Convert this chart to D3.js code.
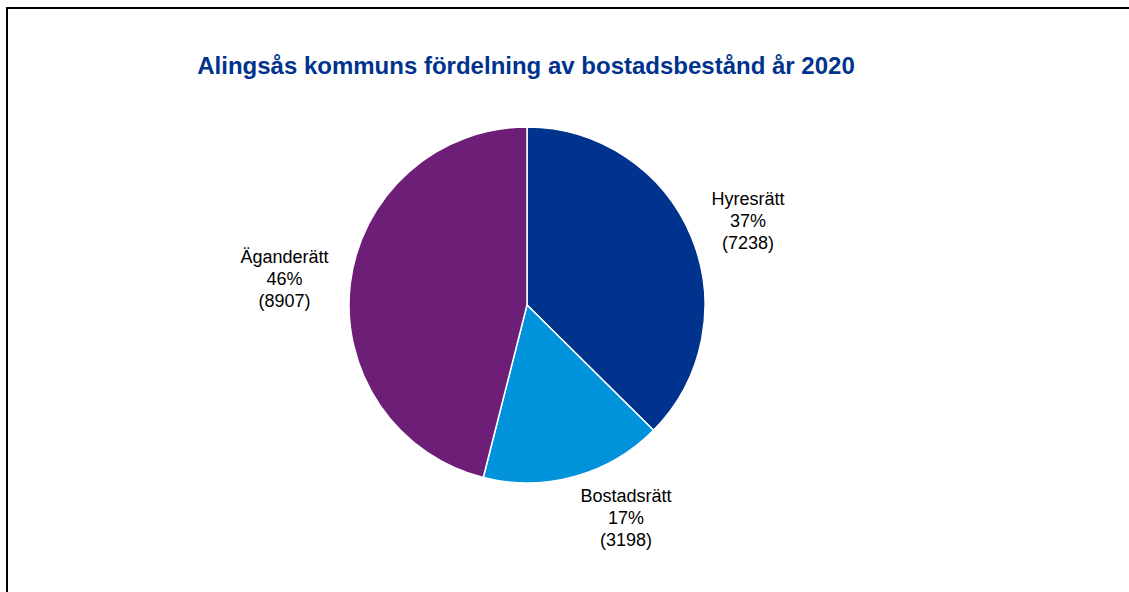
<!DOCTYPE html>
<html>
<head>
<meta charset="utf-8">
<script src="https://cdn.jsdelivr.net/npm/d3@7"></script>
<style>
  html, body { margin: 0; padding: 0; background: #fff; }
  svg { display: block; font-family: "Liberation Sans", Arial, sans-serif; }
</style>
</head>
<body>
<div id="chart"></div>
<script>
// data
const categories = ["Hyresrätt", "Bostadsrätt", "Äganderätt"];
const values = [7238, 3198, 8907];
const colors = ["#00338d", "#0093dc", "#6d1f78"];
const title = "Alingsås kommuns fördelning av bostadsbestånd år 2020";

{
	const width = 1129, height = 592;
	const cx = 527, cy = 305, radius = 178;
	const labelGap = 22, lineH = 22;

	const svg = d3.select("#chart").append("svg")
		.attr("width", width)
		.attr("height", height);

	// frame (right and bottom edges fall outside the picture)
	svg.append("rect")
		.attr("x", 7).attr("y", 8)
		.attr("width", 1300).attr("height", 800)
		.attr("fill", "none")
		.attr("stroke", "#000")
		.attr("stroke-width", 2);

	svg.append("text")
		.attr("x", 526).attr("y", 74)
		.attr("text-anchor", "middle")
		.attr("font-size", 24)
		.attr("font-weight", "bold")
		.attr("fill", "#00338d")
		.text(title);

	const data = categories.map((c, i) => ({ name: c, value: values[i], color: colors[i] }));
	const total = d3.sum(values);

	const pie = d3.pie().sort(null).value(d => d.value);
	const arc = d3.arc().innerRadius(0).outerRadius(radius);
	const arcs = pie(data);

	const g = svg.append("g").attr("transform", `translate(${cx},${cy})`);

	g.selectAll("path.slice")
		.data(arcs)
		.enter().append("path")
			.classed("slice", true)
			.attr("d", arc)
			.attr("fill", d => d.data.color)
			.attr("stroke", "#fff")
			.attr("stroke-width", 1.5);

	// labels: anchor point just outside the pie on the mid angle,
	// text block hung off it on the outer side
	const labels = g.selectAll("text.lbl")
		.data(arcs)
		.enter().append("text")
			.classed("lbl", true)
			.attr("text-anchor", "middle")
			.attr("font-size", 18)
			.attr("fill", "#000");

	labels.each(function (d) {
		const t = d3.select(this);
		const lines = [
			d.data.name,
			Math.round(d.data.value / total * 100) + "%",
			"(" + d.data.value + ")"
		];
		lines.forEach((s, i) => t.append("tspan").attr("x", 0).attr("dy", i ? lineH : 0).text(s));
		const bb = this.getBBox();
		const hw = bb.width / 2, hh = lineH * lines.length / 2;
		const a = (d.startAngle + d.endAngle) / 2;
		const ux = Math.sin(a), uy = -Math.cos(a);
		const r = radius + labelGap;
		const x = ux * r + hw * Math.sign(ux);
		const y = uy * r + hh * uy * 0.6;
		const y0 = y - hh + lineH - 4;
		t.attr("transform", `translate(${x},${y0})`);
	});
}
</script>
</body>
</html>
